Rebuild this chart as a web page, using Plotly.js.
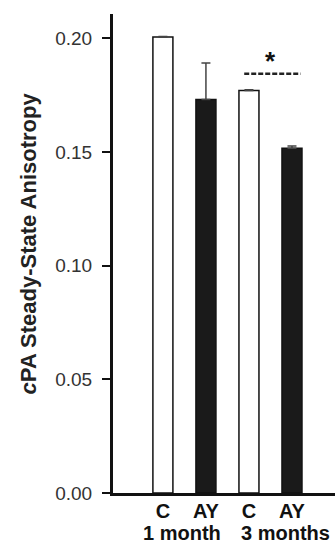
<!DOCTYPE html>
<html>
<head>
<meta charset="utf-8">
<script src="https://cdn.plot.ly/plotly-3.0.1.min.js"></script>
<style>html,body{margin:0;padding:0;background:#fff;}#chart{width:335px;height:543px;}</style>
</head>
<body>
<div id="chart"></div>
<script>
// Data
var barLabels = ["C", "AY", "C", "AY"];
var groupLabels = ["1 month", "3 months"];
var anisotropy = [0.2006, 0.1731, 0.1771, 0.1516];
var errUpper = [0.0002, 0.0160, 0.0003, 0.0010];
var barColors = ["#ffffff", "#1a1a1a", "#ffffff", "#1a1a1a"];
var yTicks = [0.00, 0.05, 0.10, 0.15, 0.20];
var sigPair = [2, 3];
var sigMark = "*";

var idx = barLabels.map(function (_, i) { return i; });
var font = "'Liberation Sans', Arial, sans-serif";

var trace = {
  type: "bar",
  x: idx,
  y: anisotropy,
  width: 0.465,
  marker: { color: barColors, line: { color: "#111", width: 1.5 } },
  error_y: { type: "data", symmetric: false, array: errUpper,
             arrayminus: errUpper.map(function(){return 0;}),
             color: "#444", thickness: 1.5, width: 4.5 },
  hoverinfo: "none"
};

var sigTop = Math.max(anisotropy[sigPair[0]] + errUpper[sigPair[0]],
                      anisotropy[sigPair[1]] + errUpper[sigPair[1]]) + 0.007;

var layout = {
  width: 335, height: 543,
  margin: { l: 113, r: 0, t: 14, b: 50 },
  paper_bgcolor: "#fff", plot_bgcolor: "#fff",
  showlegend: false,
  font: { family: font, color: "#222" },
  xaxis: {
    range: [-1.16, 4.0], tickvals: idx, ticktext: barLabels,
    showgrid: false, zeroline: false, showline: true,
    linecolor: "#111", linewidth: 3, ticks: "",
    tickfont: { family: font, size: 20, color: "#111", weight: "bold" },
    ticklabelstandoff: -2, fixedrange: true
  },
  yaxis: {
    range: [0, 0.2107], tickvals: yTicks, tickformat: ".2f",
    showgrid: false, zeroline: false, showline: true,
    linecolor: "#111", linewidth: 3, ticks: "outside", ticklen: 8,
    tickwidth: 2, tickcolor: "#111",
    tickfont: { family: font, size: 19, color: "#333" },
    ticklabelstandoff: 6, fixedrange: true
  },
  shapes: [{
    type: "line", xref: "x", yref: "y",
    x0: sigPair[0] - 0.11, x1: sigPair[1] + 0.2, y0: sigTop, y1: sigTop,
    line: { color: "#222", width: 2.5, dash: "5px,2px" }
  }],
  annotations: [
    { xref: "x", yref: "y", x: (sigPair[0] + sigPair[1]) / 2, y: sigTop,
      text: "<b>" + sigMark + "</b>", showarrow: false, yanchor: "bottom", yshift: -4,
      font: { family: font, size: 26, color: "#111" } },
    { xref: "x", yref: "paper", x: 0.45, y: -0.0825, text: "<b>" + groupLabels[0] + "</b>",
      showarrow: false, xanchor: "center", yanchor: "middle",
      font: { family: font, size: 20, color: "#111" } },
    { xref: "x", yref: "paper", x: 2.84, y: -0.0825, text: "<b>" + groupLabels[1] + "</b>",
      showarrow: false, xanchor: "center", yanchor: "middle",
      font: { family: font, size: 20, color: "#111" } },
    { xref: "paper", yref: "paper", x: -0.383, y: 0.521, textangle: -90,
      text: "<b><i>c</i>PA Steady-State Anisotropy</b>", showarrow: false,
      xanchor: "center", yanchor: "middle",
      font: { family: font, size: 22, color: "#222" } }
  ]
};

Plotly.newPlot("chart", [trace], layout, { displayModeBar: false, staticPlot: true });
</script>
</body>
</html>
